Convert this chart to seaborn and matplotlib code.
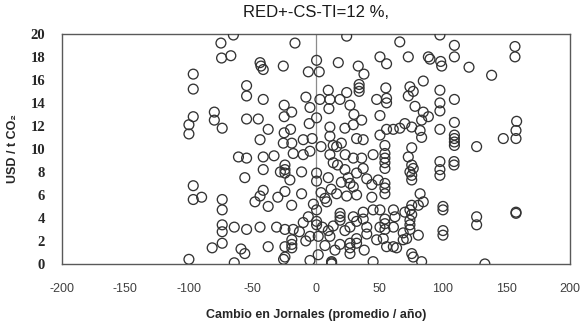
import numpy as np
import matplotlib
matplotlib.use("Agg")
import matplotlib.pyplot as plt
import seaborn as sns

# change in labour days (average / year) vs. USD per t CO2
jornales = [
    -65, -74.8, -74.3, -67, -96.6, -96.6, -80, -80, -73.8, -96.6, -100, -100,
    -61, -96.6, -96.6, -90, -73.8, -73.8, -73.8, -73.8, -64.3, -81.7, -73.8, -100, -64.3, -59,
    -16.5, 24.2, 66, -44, -43.3, -41.5, -25.7, 0.5, -6, 2.6, 17.6, 33.3, 37.8, 50.4, 55.6,
    -54.6, -54.6, -41.5, -25, -19.1, -7.9, -4.7, 3.1, 9.7, 11, 18.9, 24.2, 26.8, 34, 34, 34,
    10.2, 29.9, 36, 50.4, 47.8, 55, 55.6, 55.6,
    -54.6, -45.4, -37.6, -25, -25, 0.5, -5.3, 11, 11, 22.8, 29.4, 32, 37.2, 50.4, 55.6, 60.9,
    -44, -25.7, -19, -10, 13.6, 54.3,
    -54.6, -41.5, -24.4, -24.4, -24.4, -20.5, -17.9, -10, -4.7, -56, -41.5, -11.3, 0.5, 0.5, 9.7,
    11, 16.3, 13.6, 22.8, 25.4, 26.8, 29.4, 37.2, 29.4, 36, 45,
    54.3, 54.3, 54.3, 54.3,
    -41.5, -44, -48, -37.6, -24.4, -11.3, -19.1, 7.1, 8.4, 16.3, 24.2, 32, 54.3, 54.3, 54.3, 49,
    0.5, 0.5, 0.5, -6, 19, 19, 19,
    -54.6, -44, -31, -24.4, -17.9, -4.7, 1.8, 11, 18.9, -19, -19, -19, -24.4, -24.4, -25.5,
    -37.6, -56, -4.7, 1.8, 12.3, 12.3, 12.3,
    26.8, 26.8, 26.8, 32, 32, 45, 47.8, 53, 55.6, 60.9, 50.4, 54.3, 54.3, 54.3, 45, 50.4, 61, 61, 63.5,
    29.4, 32, 37.2, 37.2, 40, 26.8, 22.8, 13.6, 9.7, 7.1, 15, 38, 40, 44, 44, 40, 32, 17, 20,
    12, 4, -2, -8, -13, -30, -10, 5, -28, -33, -20, -3, 4, 20, 23,
    97.6, 109, 109, 156.7, 156.7, 72.7, 88.5, 89.8, 98.2, 99, 120.5, 138.3, 84.5, 74, 76.6,
    72.7, 97.6, 109, 97.6, 97.6, 78, 84.5, 88.5, 83.2, 70, 75.4, 66, 82, 83.2, 97.6, 109, 109,
    109, 109, 109, 158, 157.5, 157.5, 147.5, 126.5, 75.4,
    72.7, 75.4, 76.6, 74, 75.4, 75.4, 97.6, 97.6, 97.6, 108.7, 108.7,
    82, 84.5, 80.6, 75.4, 74, 75.4, 74, 74, 74, 70, 62.2, 68.7, 71.4, 68.7, 80.6, 75.4, 76.6,
    83.2, 100, 100, 100, 100, 126.5, 126.5, 157.5, 157.5, 133,
]
usd_tco2 = [
    19.9, 19.2, 17.9, 18.1, 16.5, 15.2, 13.2, 12.5, 11.8, 12.8, 12.1, 11.3,
    9.3, 6.8, 5.6, 5.8, 5.6, 4.7, 3.4, 2.8, 3.2, 1.4, 1.8, 0.4, 0.1, 1.3,
    19.2, 19.8, 19.3, 17.5, 17.2, 16.9, 17.2, 17.7, 16.7, 16.7, 17.5, 17.2, 16.5, 18.0, 17.4,
    15.5, 14.6, 14.3, 13.8, 13.2, 14.5, 13.6, 14.3, 15.1, 14.3, 14.3, 14.9, 13.8, 15.6, 15.3, 15.0,
    13.5, 13.0, 12.5, 12.9, 14.3, 15.3, 14.4, 14.0,
    12.6, 12.6, 11.7, 12.8, 11.4, 12.7, 12.2, 11.9, 11.1, 11.8, 12.1, 10.9, 10.8, 11.2, 11.7, 11.7,
    10.8, 10.5, 10.5, 10.8, 10.3, 10.3,
    9.2, 9.3, 8.6, 8.2, 7.9, 7.3, 9.6, 9.5, 9.8, 7.5, 8.2, 8.0, 7.9, 7.2, 7.5,
    9.5, 10.2, 8.8, 8.2, 7.5, 7.0, 6.7, 8.3, 9.2, 9.2, 9.5,
    9.6, 9.2, 8.8, 8.3,
    6.4, 5.9, 5.4, 5.0, 6.3, 6.1, 5.1, 5.7, 5.4, 6.1, 5.9, 6.0, 7.0, 6.6, 6.1, 7.3,
    4.7, 3.7, 3.4, 4.1, 4.1, 3.8, 4.4,
    3.0, 3.2, 3.2, 3.0, 3.0, 2.4, 2.4, 2.4, 1.7, 2.1, 1.7, 1.4, 1.5, 0.6, 0.4,
    1.5, 0.9, 0.3, 0.8, 0.2, 0.1, 0.0,
    1.8, 1.4, 0.9, 2.2, 1.8, 0.2, 2.1, 2.2, 1.5, 1.5, 3.2, 3.5, 3.0, 3.9, 4.7, 4.7, 4.7, 3.2, 1.4,
    4.1, 3.7, 4.5, 3.9, 3.2, 3.2, 2.9, 3.3, 2.9, 1.6, 1.2, 1.2, 2.6, 5.8, 6.9, 7.4, 7.9, 8.6, 7.1,
    6.5, 6.2, 5.2, 2.0, 2.8, 5.8, 3.6, 3.2, 8.0, 9.4, 11.7, 10.9, 10.2, 10.5, 9.5,
    19.9, 19.0, 18.0, 18.9, 18.0, 18.0, 18.0, 17.8, 17.6, 17.2, 17.1, 16.4, 15.9, 15.4, 15.0,
    14.6, 15.1, 14.3, 14.0, 13.3, 13.7, 13.2, 12.8, 12.5, 12.2, 11.9, 11.8, 11.6, 11.0, 11.7, 12.3, 11.2,
    10.9, 10.6, 10.3, 12.4, 11.6, 10.9, 10.9, 10.2, 10.1,
    9.3, 8.6, 8.3, 8.0, 7.7, 7.3, 8.9, 8.2, 7.7, 8.9, 8.6,
    6.1, 5.4, 5.1, 5.1, 4.7, 4.3, 3.8, 3.4, 3.0, 4.5, 4.1, 2.7, 2.2, 2.1, 2.5, 0.9, 0.6,
    0.2, 5.0, 4.7, 2.9, 2.5, 4.1, 3.4, 4.5, 4.4, 0.0,
]

x_ticks = [-200, -150, -100, -50, 0, 50, 100, 150, 200]
y_ticks = [0, 2, 4, 6, 8, 10, 12, 14, 16, 18, 20]

sns.set_style("white")
plt.rcParams["font.family"] = ["Liberation Sans", "DejaVu Sans"]

fig = plt.figure(figsize=(5.84, 3.32), dpi=100)
ax = fig.add_axes([0.106, 0.205, 0.87, 0.693])

ax.axvline(0, color="#8c8c8c", lw=0.9, zorder=1)
sns.scatterplot(x=jornales, y=usd_tco2, ax=ax, marker="o", s=50,
                facecolors="none", edgecolor="#333333", linewidth=0.95, zorder=3)

ax.set_xlim(-200, 200)
ax.set_ylim(0, 20)
ax.set_xticks(x_ticks)
ax.set_yticks(y_ticks)
ax.set_xticklabels([str(v) for v in x_ticks], fontsize=9, color="#404040")
ax.set_yticklabels([str(v) for v in y_ticks], fontsize=10.5, fontweight="bold",
                   family="Liberation Serif")
ax.tick_params(axis="both", length=0)
ax.tick_params(axis="x", pad=14)
ax.tick_params(axis="y", pad=12)

for sp in ax.spines.values():
    sp.set_visible(True)
    sp.set_color("#595959")
    sp.set_linewidth(1.0)

ax.set_xlabel("Cambio en Jornales (promedio / año)", fontsize=9, fontweight="bold",
              labelpad=10)
ax.set_ylabel("USD / t CO₂", fontsize=9, fontweight="bold", labelpad=8)
ax.set_title("RED+-CS-TI=12 %,", fontsize=12, color="#1a1a1a", pad=12)

fig.savefig("out.png", dpi=100)
